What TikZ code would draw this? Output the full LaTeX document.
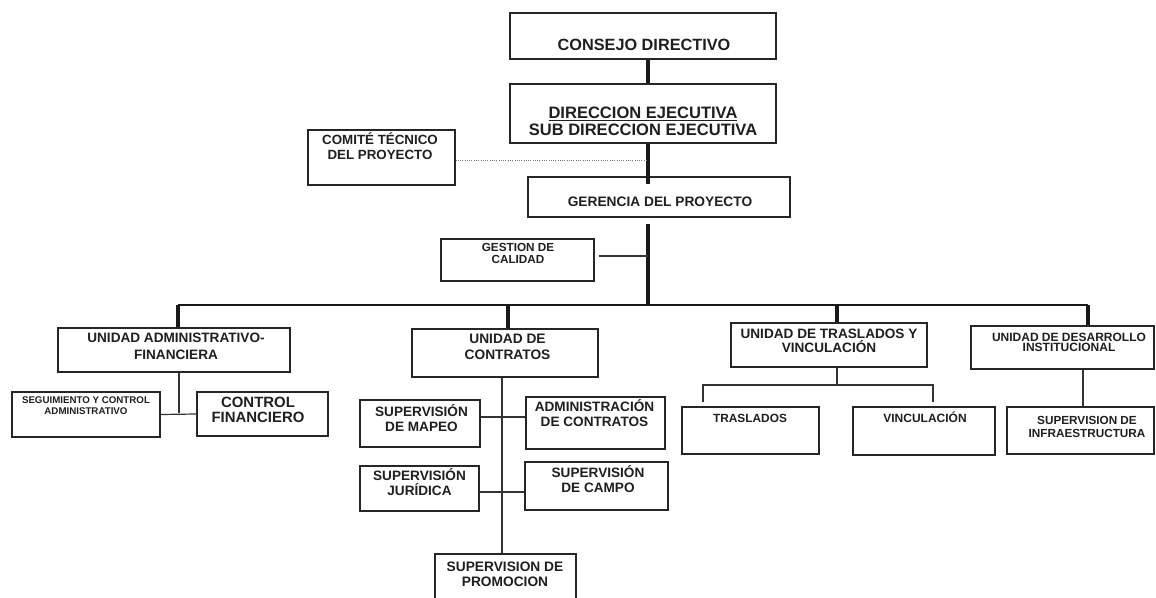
\documentclass[tikz,border=0pt]{standalone}
\usepackage{fontspec}
\setmainfont{Liberation Sans}
\usetikzlibrary{fit}
\newcommand\fs[2]{\fontsize{#1}{#2}\selectfont}
\tikzset{
  box/.style={draw=black!85, line width=0.9pt, inner sep=0pt},
  lbl/.style={align=center, inner sep=0pt, text=black!88},
  thk/.style={line width=3pt, draw=black!90},
  busline/.style={line width=2.2pt, draw=black!90},
  thn/.style={line width=0.9pt, draw=black!80},
  dotl/.style={line width=0.7pt, draw=black!55, densely dotted}
}
% name, x1, y1, x2, y2, text x, text y, font, text
\newcommand\ob[9]{%
  \node[box, fit={(#2,#3) (#4,#5)}] (#1) {};
  \node[lbl, font={\bfseries#8}] (#1-t) at (#6,#7) {#9};
}
\begin{document}
\begin{tikzpicture}[x=0.75pt, y=-0.75pt]
\useasboundingbox (0,0) rectangle (1156,598);
\clip (0,0) rectangle (1156,598);
\fill[white] (0,0) rectangle (1156,598);

\ob{cd}{510}{13}{776}{59}{644}{44.5}{\fs{12.2}{14}}{CONSEJO DIRECTIVO}
\ob{de}{510}{84}{776}{143}{643}{121}{\fs{12.4}{12.75}}{\underline{DIRECCION EJECUTIVA}\\SUB DIRECCION EJECUTIVA}
\ob{ct}{308}{130}{455}{185}{380}{146}{\fs{10}{11.25}}{COMITÉ TÉCNICO\\DEL PROYECTO}
\ob{ger}{528}{177}{790}{217}{660}{201.5}{\fs{10.3}{12}}{GERENCIA DEL PROYECTO}
\ob{gc}{441}{239}{594}{281}{518}{253.5}{\fs{8.8}{9}}{GESTION DE\\CALIDAD}

\ob{ua}{58}{328}{290}{372}{176}{346}{\fs{10.2}{12.75}}{UNIDAD ADMINISTRATIVO-\\FINANCIERA}
\ob{sc}{12}{392}{160}{437}{86}{405.5}{\fs{7.3}{8.25}}{SEGUIMIENTO Y CONTROL\\ADMINISTRATIVO}
\ob{cf}{197}{392}{328}{436}{258}{409.5}{\fs{11.2}{11.25}}{CONTROL\\FINANCIERO}

\ob{uc}{412}{329}{598}{377}{507.5}{346.5}{\fs{10.3}{12}}{UNIDAD DE\\CONTRATOS}
\ob{sm}{360}{400}{480}{447}{421.5}{418}{\fs{10.2}{11.25}}{SUPERVISIÓN\\DE MAPEO}
\ob{ac}{526}{397}{665}{449}{594.5}{413}{\fs{10.2}{11.25}}{ADMINISTRACIÓN\\DE CONTRATOS}
\ob{sj}{360}{466}{479}{511}{419.5}{482}{\fs{10.2}{11.25}}{SUPERVISIÓN\\JURÍDICA}
\ob{sca}{525}{462}{668}{510}{598}{479}{\fs{10.2}{11.25}}{SUPERVISIÓN\\DE CAMPO}
\ob{sp}{435}{554}{576}{606}{505}{574.5}{\fs{10.3}{11.25}}{SUPERVISION DE\\PROMOCION}

\ob{ut}{731}{323}{927}{367}{829}{341}{\fs{10.2}{10.5}}{UNIDAD DE TRASLADOS Y\\VINCULACIÓN}
\ob{tt}{682}{407}{819}{454}{750}{418}{\fs{8.9}{10}}{TRASLADOS}
\ob{tv}{853}{407}{995}{455}{925}{417}{\fs{9}{10}}{VINCULACIÓN}

\ob{ud}{971}{326}{1154}{369}{1069}{342.5}{\fs{9}{8}}{UNIDAD DE DESARROLLO\\INSTITUCIONAL}
\ob{si}{1007}{407}{1154}{454}{1087}{427}{\fs{8.8}{9.75}}{SUPERVISION DE\\INFRAESTRUCTURA}

% trunk
\coordinate (tx) at (648,0);
\coordinate (b1) at (178,305);
\coordinate (b2) at (508,305);
\coordinate (b3) at (837,305);
\coordinate (b4) at (1088,305);
\draw[thk] (cd.south -| tx) -- (de.north -| tx);
\draw[thk] (de.south -| tx) -- ([yshift=-6pt]ger.north -| tx);
\draw[dotl] ([yshift=-2.6pt]ct.east) -- ([yshift=-2.6pt]ct.east -| tx);
\draw[thk] ([yshift=-4.5pt]ger.south -| tx) -- (b1 -| tx);
\draw[thn] ([xshift=3pt,yshift=3pt]gc.east) -- ([yshift=3pt]gc.east -| tx);

% bus
\draw[busline] (b1) -- (b4);
\draw[thk] (b1) -- (ua.north -| b1);
\draw[thk] (b2) -- (uc.north -| b2);
\draw[thk] (b3) -- (ut.north -| b3);
\draw[thk] (b4) -- (ud.north -| b4);

% administrativo-financiera
\coordinate (ja) at (179,413);
\draw[thn] (ua.south -| ja) -- (ja);
\draw[thn] (sc.east) -- (cf.west);

% contratos
\coordinate (jc) at (502,417);
\coordinate (jd) at (502,492);
\draw[thn] (uc.south -| jc) -- (sp.north -| jc);
\draw[thn] (sm.east |- jc) -- (ac.west |- jc);
\draw[thn] (sj.east |- jd) -- (sca.west |- jd);

% traslados
\coordinate (t1) at (703,385);
\coordinate (t2) at (837,385);
\coordinate (t3) at (933,385);
\draw[thn] (ut.south -| t2) -- (t2);
\draw[thn] ([yshift=3pt]tt.north -| t1) -- (t1) -- (t3) -- ([yshift=3pt]tv.north -| t3);

% desarrollo
\coordinate (d1) at (1083,0);
\draw[thn] (ud.south -| d1) -- (si.north -| d1);
\end{tikzpicture}
\end{document}
